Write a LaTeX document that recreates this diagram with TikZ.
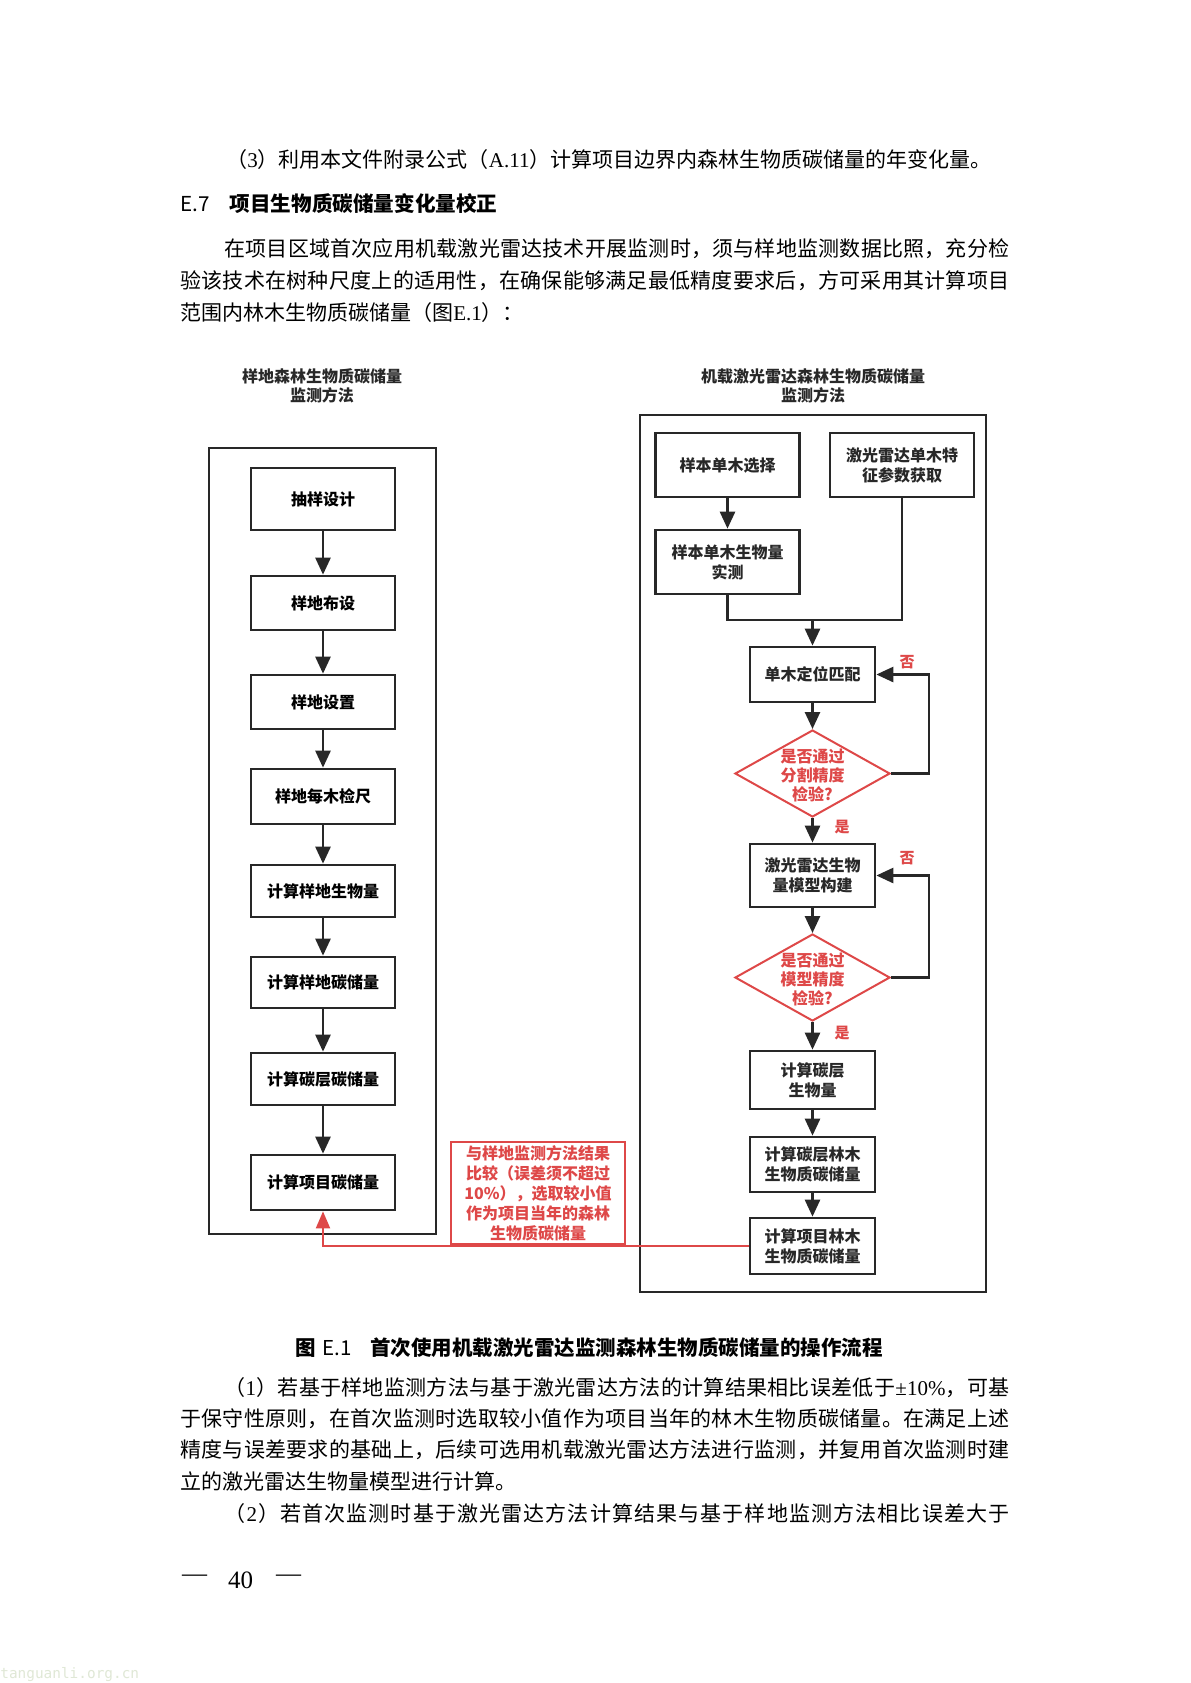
\documentclass[tikz,border=0pt]{standalone}
\usepackage{fontspec}
\setmainfont{Noto Sans CJK SC}
\newfontfamily\cjk{Noto Sans CJK SC}
\newfontfamily\lat{Liberation Serif}
\newfontfamily\wmfont{DejaVu Sans Mono}
\usetikzlibrary{arrows.meta,shapes.geometric}
\definecolor{lc}{RGB}{40,40,40}
\definecolor{rd}{RGB}{222,72,72}
\definecolor{wmc}{RGB}{224,232,214}
\makeatletter
\newcommand\jline[2]{\hbox to #1{\let\jsep\relax\@tfor\jc:=#2\do{\jsep\jc\let\jsep\hfil}}}
\makeatother
\tikzset{
  lbox/.style={draw=lc, line width=1.35pt, fill=white, minimum width=72pt, inner sep=0pt,
    font=\cjk\bfseries\fontsize{8}{10}\selectfont, text=black, align=center},
  rbox/.style={lbox, text=lc},
  cbox/.style={rbox, minimum width=62.5pt},
  frame/.style={draw=lc, line width=1.1pt},
  arr/.style={draw=lc, line width=1.3pt, -{Triangle[width=7.5pt,length=8.5pt]}},
  ln/.style={draw=lc, line width=1.3pt},
  rarr/.style={draw=rd, line width=1pt, -{Triangle[width=7pt,length=8.5pt]}},
  dia/.style={diamond, draw=rd, line width=1pt, minimum width=77.5pt, minimum height=43.5pt, inner sep=0pt},
  rtext/.style={text=rd, font=\cjk\bfseries\fontsize{8}{9.5}\selectfont, align=center, inner sep=0pt},
  yn/.style={text=rd, font=\cjk\bfseries\fontsize{7.5}{9}\selectfont, inner sep=0pt},
  ttl/.style={text=lc, font=\cjk\bfseries\fontsize{8}{9.5}\selectfont, align=center, inner sep=0pt},
  body/.style={anchor=west, inner sep=0pt, font=\cjk\fontsize{10.5}{12}\selectfont},
}
\begin{document}
\begin{tikzpicture}[x=0.5pt,y=-0.5pt]
\fill[white] (0,0) rectangle (1190,1683);
\useasboundingbox (0,0) rectangle (1190,1683);

% ---------- top text ----------
\node[body] (ta) at (226,160) {（{\lat 3}）利用本文件附录公式（{\lat A.11}）计算项目边界内森林生物质碳储量的年变化量。};
\node[anchor=west, inner sep=0pt, font=\cjk\fontsize{10.3}{12}\selectfont] (hd) at (180,204) {E.7\hspace{10pt}{\bfseries 项目生物质碳储量变化量校正}};
\node[body] (p1) at (224,249) {\jline{392.5pt}{在项目区域首次应用机载激光雷达技术开展监测时，须与样地监测数据比照，充分检}};
\node[body] (p2) at (180,281) {\jline{414.5pt}{验该技术在树种尺度上的适用性，在确保能够满足最低精度要求后，方可采用其计算项目}};
\node[body] (p3) at (180,313) {范围内林木生物质碳储量（图{\lat E.1}）：};

% ---------- titles ----------
\node[ttl] (tl) at (322,386) {样地森林生物质碳储量\\监测方法};
\node[ttl] (tr) at (813,386) {机载激光雷达森林生物质碳储量\\监测方法};

% ---------- frames ----------
\draw[frame] (209,448) rectangle (436,1234);
\draw[frame] (640,415) rectangle (986,1292);

% ---------- left column ----------
\node[lbox, minimum height=31pt]   (b1) at (323,499)   {抽样设计};
\node[lbox, minimum height=27pt]   (b2) at (323,603)   {样地布设};
\node[lbox, minimum height=27pt]   (b3) at (323,702)   {样地设置};
\node[lbox, minimum height=27.5pt] (b4) at (323,796.5) {样地每木检尺};
\node[lbox, minimum height=26pt]   (b5) at (323,891)   {计算样地生物量};
\node[lbox, minimum height=25.5pt] (b6) at (323,982.5) {计算样地碳储量};
\node[lbox, minimum height=26pt]   (b7) at (323,1079)  {计算碳层碳储量};
\node[lbox, minimum height=27.5pt] (b8) at (323,1182.5){计算项目碳储量};
\draw[arr] (b1) -- (b2);
\draw[arr] (b2) -- (b3);
\draw[arr] (b3) -- (b4);
\draw[arr] (b4) -- (b5);
\draw[arr] (b5) -- (b6);
\draw[arr] (b6) -- (b7);
\draw[arr] (b7) -- (b8);

% ---------- right column ----------
\node[rbox, minimum height=32pt] (r1) at (727.5,465) {样本单木选择};
\node[rbox, minimum height=32pt] (r2) at (902,465)   {激光雷达单木特\\征参数获取};
\node[rbox, minimum height=32pt] (r3) at (727.5,562) {样本单木生物量\\实测};
\node[cbox, minimum height=27.5pt] (r4) at (812.5,674.5) {单木定位匹配};
\node[dia] (d1) at (812.5,773.5) {};
\node[rtext] (d1t) at (812.5,775) {是否通过\\分割精度\\检验?};
\node[cbox, minimum height=31.5pt] (r5) at (812.5,875.5) {激光雷达生物\\量模型构建};
\node[dia] (d2) at (812.5,977.5) {};
\node[rtext] (d2t) at (812.5,979) {是否通过\\模型精度\\检验?};
\node[cbox, minimum height=29pt]   (r6) at (812.5,1080)   {计算碳层\\生物量};
\node[cbox, minimum height=27.5pt] (r7) at (812.5,1164.5) {计算碳层林木\\生物质碳储量};
\node[cbox, minimum height=28pt]   (r8) at (812.5,1246)   {计算项目林木\\生物质碳储量};

\coordinate (m) at (812.5,620);
\draw[arr] (r1) -- (r3);
\draw[ln] (r3.south) |- (m);
\draw[ln] (r2.south) |- (m);
\draw[arr] (m) -- (r4.north);
\draw[arr] (r4) -- (d1);
\draw[arr] (d1) -- (r5);
\draw[arr] (d1.east) -- ++(38,0) |- (r4.east);
\draw[arr] (r5) -- (d2);
\draw[arr] (d2) -- (r6);
\draw[arr] (d2.east) -- ++(38,0) |- (r5.east);
\draw[arr] (r6) -- (r7);
\draw[arr] (r7) -- (r8);

\node[yn] (n1) at (907,662)  {否};
\node[yn] (y1) at (842,827)  {是};
\node[yn] (n2) at (907,858)  {否};
\node[yn] (y2) at (842,1033) {是};

% ---------- comparison ----------
\draw[rarr] (r8.west) -| (b8.south);
\node[draw=rd, line width=1pt, minimum width=87pt, minimum height=51pt, rtext, font=\cjk\bfseries\fontsize{8}{10}\selectfont] (rb) at (538,1193)
  {与样地监测方法结果\\比较（误差须不超过\\10\%），选取较小值\\作为项目当年的森林\\生物质碳储量};

% ---------- caption and text below ----------
\node[anchor=west, inner sep=0pt, font=\cjk\bfseries\fontsize{10.25}{12}\selectfont] (cap) at (295,1348)
  {图\hspace{3.5pt}{\mdseries E.1}\hspace{9pt}首次使用机载激光雷达监测森林生物质碳储量的操作流程};
\node[body] (q1) at (224,1388) {\jline{392.5pt}{（{{\lat 1}}）若基于样地监测方法与基于激光雷达方法的计算结果相比误差低于{{\lat ±10\%}}，可基}};
\node[body] (q2) at (180,1419) {\jline{414.5pt}{于保守性原则，在首次监测时选取较小值作为项目当年的林木生物质碳储量。在满足上述}};
\node[body] (q3) at (180,1450) {\jline{414.5pt}{精度与误差要求的基础上，后续可选用机载激光雷达方法进行监测，并复用首次监测时建}};
\node[body] (q4) at (180,1481) {立的激光雷达生物量模型进行计算。};
\node[body] (q5) at (224,1513) {\jline{392.5pt}{（{{\lat 2}}）若首次监测时基于激光雷达方法计算结果与基于样地监测方法相比误差大于}};

% ---------- page number ----------
\node[inner sep=0pt, font=\lat\fontsize{12.5}{14}\selectfont] (pd1) at (194.5,1578) {—};
\node[inner sep=0pt, font=\lat\fontsize{12.5}{14}\selectfont] (pn) at (240.5,1580) {40};
\node[inner sep=0pt, font=\lat\fontsize{12.5}{14}\selectfont] (pd2) at (288.5,1578) {—};

% ---------- watermark ----------
\node[anchor=west, inner sep=0pt, text=wmc, font=\wmfont\fontsize{7.2}{8}\selectfont] (wm) at (0,1675) {tanguanli.org.cn};
\end{tikzpicture}
\end{document}
